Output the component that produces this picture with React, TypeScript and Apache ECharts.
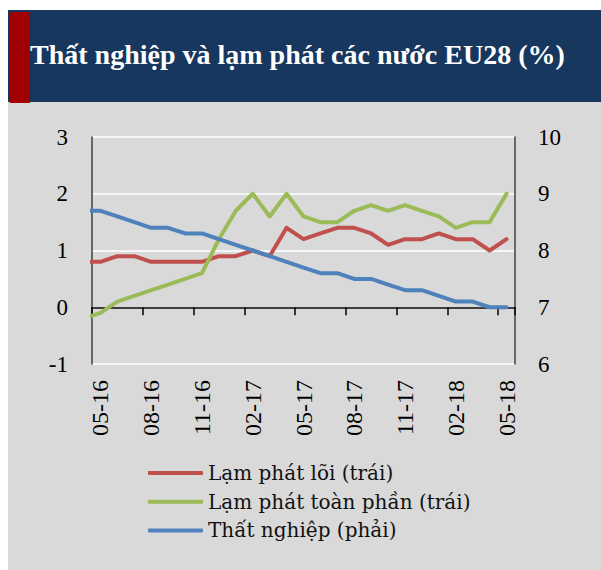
import React, { useEffect, useRef } from "react";
import * as echarts from "echarts";

// Months (first one, 04-16, lies just left of the plot and is clipped, as in the reference)
const months = [
  "04-16", "05-16", "06-16", "07-16", "08-16", "09-16", "10-16", "11-16", "12-16",
  "01-17", "02-17", "03-17", "04-17", "05-17", "06-17", "07-17", "08-17", "09-17",
  "10-17", "11-17", "12-17", "01-18", "02-18", "03-18", "04-18", "05-18",
];
const labelMonths = months.slice(1);

// Core inflation (left axis, %)
const coreInflation = [
  0.8, 0.8, 0.9, 0.9, 0.8, 0.8, 0.8, 0.8, 0.9, 0.9, 1.0, 0.9, 1.4,
  1.2, 1.3, 1.4, 1.4, 1.3, 1.1, 1.2, 1.2, 1.3, 1.2, 1.2, 1.0, 1.2,
];
// Headline inflation (left axis, %)
const headlineInflation = [
  -0.2, -0.1, 0.1, 0.2, 0.3, 0.4, 0.5, 0.6, 1.2, 1.7, 2.0, 1.6, 2.0,
  1.6, 1.5, 1.5, 1.7, 1.8, 1.7, 1.8, 1.7, 1.6, 1.4, 1.5, 1.5, 2.0,
];
// Unemployment (right axis, %)
const unemployment = [
  8.7, 8.7, 8.6, 8.5, 8.4, 8.4, 8.3, 8.3, 8.2, 8.1, 8.0, 7.9, 7.8,
  7.7, 7.6, 7.6, 7.5, 7.5, 7.4, 7.3, 7.3, 7.2, 7.1, 7.1, 7.0, 7.0,
];

const seriesNames = [
  "Lạm phát lõi (trái)",
  "Lạm phát toàn phần (trái)",
  "Thất nghiệp (phải)",
];
const colors = ["#C0504D", "#9BBB59", "#4F81BD"];
const leftTicks = { min: -1, max: 3, interval: 1 };
const rightTicks = { min: 6, max: 10, interval: 1 };
const titleText = "Thất nghiệp và lạm phát các nước EU28 (%)";

const toPoints = (vals: number[]) => vals.map((v, k) => [k - 0.5, v]);

export default function App() {
  const ref = useRef<HTMLDivElement>(null);
  useEffect(() => {
    if (!ref.current) return;
    const chart = echarts.init(ref.current, undefined, { renderer: "svg" });
    const axisFont = "Liberation Serif";
    chart.setOption({
      animation: false,
      backgroundColor: "#ffffff",
      graphic: [
        { type: "rect", z: -10, silent: true, shape: { x: 8, y: 102, width: 593, height: 468 }, style: { fill: "#D9D9D9" } },
        { type: "rect", z: -10, silent: true, shape: { x: 8, y: 10, width: 593, height: 92 }, style: { fill: "#17375E" } },
        { type: "rect", z: -9, silent: true, shape: { x: 10, y: 12, width: 20, height: 91 }, style: { fill: "#A00000" } },
      ],
      title: {
        text: titleText,
        left: 30,
        top: 40.5,
        padding: 0,
        textStyle: {
          color: "#ffffff",
          fontFamily: "Liberation Serif",
          fontWeight: "bold",
          fontSize: 28,
        },
      },
      legend: {
        orient: "vertical",
        left: 148,
        top: 462,
        padding: 0,
        itemWidth: 55,
        itemHeight: 4,
        itemGap: 6.7,
        icon: "roundRect",
        data: seriesNames,
        textStyle: {
          fontFamily: "DejaVu Serif",
          fontSize: 20,
          lineHeight: 22,
          color: "#111111",
        },
      },
      grid: { left: 92, top: 137, width: 423, height: 227, containLabel: false },
      xAxis: [
        {
          type: "value",
          min: 0,
          max: 25,
          interval: 3,
          position: "bottom",
          axisLine: { show: true, onZero: true, lineStyle: { color: "#000000", width: 1.5 } },
          axisTick: { show: true, inside: false, length: 8, lineStyle: { color: "#000000", width: 1.5 } },
          axisLabel: { show: false },
          splitLine: { show: false },
        },
        {
          type: "category",
          data: labelMonths,
          position: "bottom",
          boundaryGap: true,
          axisLine: { show: false, onZero: false },
          axisTick: { show: false },
          splitLine: { show: false },
          axisLabel: {
            interval: 2,
            rotate: 90,
            margin: 16,
            fontFamily: axisFont,
            fontSize: 24,
            color: "#000000",
          },
        },
      ],
      yAxis: [
        {
          type: "value",
          position: "left",
          ...leftTicks,
          axisLine: { show: true, onZero: false, lineStyle: { color: "#404040", width: 1.5 } },
          axisTick: { show: false },
          axisLabel: { margin: 24, fontFamily: axisFont, fontSize: 23, color: "#000000" },
          splitLine: { show: true, lineStyle: { color: "#ffffff", width: 1.5 } },
        },
        {
          type: "value",
          position: "right",
          ...rightTicks,
          axisLine: { show: true, onZero: false, lineStyle: { color: "#404040", width: 1.5 } },
          axisTick: { show: false },
          axisLabel: { margin: 23, fontFamily: axisFont, fontSize: 23, color: "#000000" },
          splitLine: { show: false },
        },
      ],
      series: [
        {
          name: seriesNames[0],
          type: "line",
          xAxisIndex: 0,
          yAxisIndex: 0,
          data: toPoints(coreInflation),
          showSymbol: false,
          symbol: "none",
          color: colors[0],
          lineStyle: { width: 4, color: colors[0], cap: "round", join: "round" },
        },
        {
          name: seriesNames[1],
          type: "line",
          xAxisIndex: 0,
          yAxisIndex: 0,
          data: toPoints(headlineInflation),
          showSymbol: false,
          symbol: "none",
          color: colors[1],
          lineStyle: { width: 4, color: colors[1], cap: "round", join: "round" },
        },
        {
          name: seriesNames[2],
          type: "line",
          xAxisIndex: 0,
          yAxisIndex: 1,
          data: toPoints(unemployment),
          showSymbol: false,
          symbol: "none",
          color: colors[2],
          lineStyle: { width: 4, color: colors[2], cap: "round", join: "round" },
        },
      ],
    });
    return () => chart.dispose();
  }, []);
  return (
    <div
      ref={ref}
      style={{ position: "absolute", left: 0, top: 0, width: 601, height: 570 }}
    />
  );
}
